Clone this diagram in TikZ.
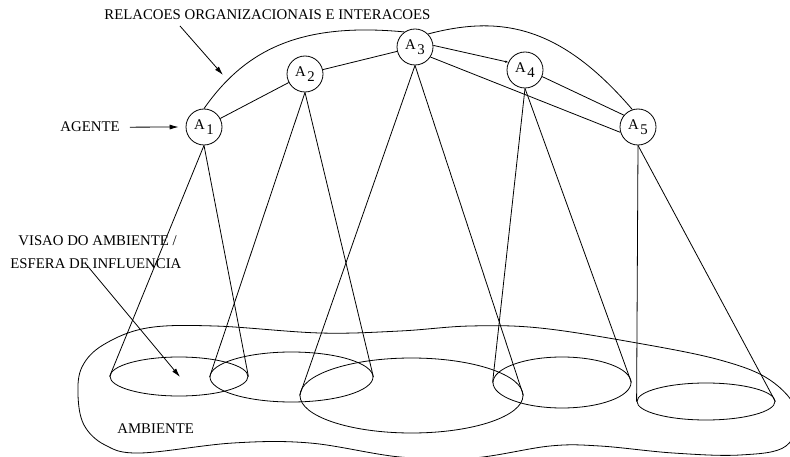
\documentclass[tikz,border=0pt]{standalone}
\usepackage{fontspec}
\setmainfont{Liberation Serif}
\usetikzlibrary{arrows.meta,shapes.geometric}
\begin{document}
\begin{tikzpicture}[x=1pt,y=-1pt,line width=0.8pt,
  agent/.style={circle,draw,minimum size=36pt,inner sep=0pt,font=\fontsize{14.8}{15}\selectfont},
  lbl/.style={font=\fontsize{14.8}{17}\selectfont,inner sep=0pt},
  view/.style={ellipse,draw,inner sep=0pt},
  ptr/.style={-{Latex[length=9pt,width=5pt]}},
  tiny/.style={-{Latex[length=3pt,width=2.5pt]}}]
\path[use as bounding box] (0,0) rectangle (790,457);
\clip (0,0) rectangle (790,457);

% environment blob
\draw plot[smooth cycle,tension=0.6] coordinates {
  (147,328) (215,326) (320,333) (400,331) (470,326) (540,328) (637,343)
  (720,360) (770,380) (797,412) (786,446) (740,455) (673,453) (600,446)
  (550,446) (473,458) (400,457) (310,443) (233,443) (140,453) (105,445)
  (84,425) (78,395) (82,367) (103,345)};

% agents
\node[agent] (A1) at (204,127) {A\hspace{1.5pt}\raisebox{-5pt}{1}};
\node[agent] (A2) at (305,74)  {A\hspace{1.5pt}\raisebox{-5pt}{2}};
\node[agent] (A3) at (415,47)  {A\hspace{1.5pt}\raisebox{-5pt}{3}};
\node[agent] (A4) at (525,70)  {A\hspace{1.5pt}\raisebox{-5pt}{4}};
\node[agent] (A5) at (638,127) {A\hspace{1.5pt}\raisebox{-5pt}{5}};

% views / spheres of influence
\node[view,minimum width=138pt,minimum height=39pt] (E1) at (179,376.5) {};
\node[view,minimum width=163pt,minimum height=50pt] (E2) at (291.5,377) {};
\node[view,minimum width=223pt,minimum height=75pt] (E3) at (411.5,395.5) {};
\node[view,minimum width=138pt,minimum height=51pt] (E4) at (562,382.5) {};
\node[view,minimum width=138pt,minimum height=37pt] (E5) at (706,401.5) {};

% cones
\draw (A1.south) -- (E1.west);
\draw (A1.south) -- (E1.east);
\draw (A2.south) -- (E2.west);
\draw (A2.south) -- (E2.east);
\draw (A3.south) -- (E3.west);
\draw (A3.south) -- (E3.east);
\draw (A4.south) -- (E4.west);
\draw (A4.south) -- (E4.east);
\draw (A5.south) -- (E5.west);
\draw (A5.south) -- (E5.east);

% relations
\draw (A1) -- (A2);
\draw (A2) -- (A3);
\draw[tiny] (A3.5) -- (A4.155);
\draw (A3.-33) -- (A5.197);
\draw (A4.-21) -- (A5.140);
\draw (A1.north) .. controls (245,50) and (300,22) .. (A3.125);
\draw (A3.45) .. controls (500,15) and (560,25) .. (A5.108);

% labels
\node[lbl,anchor=base west] (rel) at (104,20) {RELACOES ORGANIZACIONAIS E INTERACOES};
\node[lbl,anchor=base west] (agente) at (60,132) {AGENTE};
\node[lbl,anchor=base west] (vis1) at (18,246) {VISAO DO AMBIENTE /};
\node[lbl,anchor=base west] (vis2) at (10,269) {ESFERA DE INFLUENCIA};
\node[lbl,anchor=base west] (amb) at (117,433) {AMBIENTE};

% pointers
\coordinate (relTail) at (180,26);
\coordinate (relTip) at (223,75);
\draw[ptr] (relTail) -- (relTip);
\draw[ptr] ([xshift=10pt]agente.east) -- ([xshift=-7pt]A1.west);
\coordinate (visTail) at (85,263);
\coordinate (visTip) at (180,377);
\draw[ptr] (visTail) -- (visTip);
\end{tikzpicture}
\end{document}
